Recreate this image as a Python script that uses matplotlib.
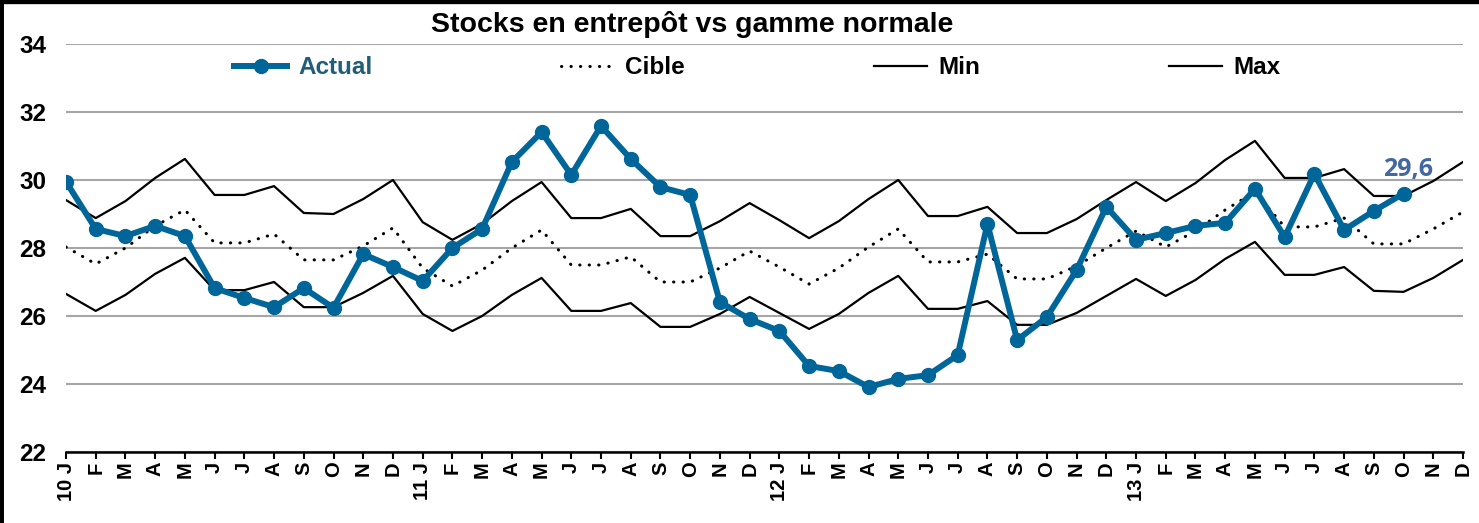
import matplotlib
matplotlib.use("Agg")
import matplotlib.pyplot as plt
from matplotlib.lines import Line2D

plt.rcParams['font.family'] = ['Liberation Sans', 'DejaVu Sans']

months = ['J', 'F', 'M', 'A', 'M', 'J', 'J', 'A', 'S', 'O', 'N', 'D']
years = ['10', '11', '12', '13']
tick_labels = []
for y in years:
    for i, m in enumerate(months):
        tick_labels.append(y + ' ' + m if i == 0 else m)

actual = [29.95, 28.56, 28.35, 28.65, 28.35, 26.82, 26.53, 26.26, 26.82, 26.24,
          27.82, 27.44, 27.03, 28.0, 28.56, 30.53, 31.41, 30.15, 31.59, 30.62,
          29.79, 29.56, 26.41, 25.91, 25.56, 24.53, 24.38, 23.91, 24.15, 24.26,
          24.85, 28.71, 25.29, 25.97, 27.35, 29.21, 28.24, 28.44, 28.65, 28.74,
          29.74, 28.32, 30.18, 28.53, 29.09, 29.6]

cible = [28.03, 27.53, 28.0, 28.65, 29.12, 28.15, 28.15, 28.41, 27.65, 27.65,
         28.06, 28.59, 27.41, 26.88, 27.35, 28.0, 28.53, 27.5, 27.5, 27.74,
         27.0, 27.0, 27.41, 27.91, 27.44, 26.94, 27.41, 28.03, 28.56, 27.59,
         27.59, 27.82, 27.09, 27.09, 27.47, 28.0, 28.5, 28.03, 28.5, 29.12,
         29.65, 28.62, 28.62, 28.88, 28.12, 28.12, 28.56, 29.06]

vmin = [26.65, 26.15, 26.62, 27.24, 27.71, 26.76, 26.76, 27.0, 26.26, 26.26,
        26.68, 27.18, 26.06, 25.56, 26.0, 26.62, 27.12, 26.15, 26.15, 26.38,
        25.68, 25.68, 26.06, 26.56, 26.09, 25.62, 26.06, 26.68, 27.18, 26.21,
        26.21, 26.44, 25.74, 25.74, 26.09, 26.59, 27.09, 26.59, 27.06, 27.68,
        28.18, 27.21, 27.21, 27.44, 26.74, 26.71, 27.12, 27.65]

vmax = [29.41, 28.88, 29.38, 30.06, 30.62, 29.56, 29.56, 29.82, 29.03, 29.0,
        29.44, 30.0, 28.76, 28.24, 28.71, 29.38, 29.94, 28.88, 28.88, 29.15,
        28.35, 28.35, 28.79, 29.32, 28.82, 28.29, 28.79, 29.44, 30.0, 28.94,
        28.94, 29.21, 28.44, 28.44, 28.85, 29.41, 29.94, 29.38, 29.91, 30.59,
        31.15, 30.06, 30.06, 30.32, 29.53, 29.53, 29.97, 30.53]

blue = '#006699'
dots = (0, (0.1, 3.0))

fig = plt.figure(figsize=(14.79, 5.23), dpi=100)
ax = fig.add_axes([66 / 1479, 1 - 452 / 523, (1463 - 66) / 1479, 408 / 523])

x_all = list(range(len(tick_labels)))
ax.plot(x_all, vmin, color='black', lw=1.6, zorder=2)
ax.plot(x_all, vmax, color='black', lw=1.6, zorder=2)
ax.plot(x_all, cible, color='black', lw=2.2, ls=dots,
        dash_capstyle='round', zorder=2)
ax.plot(range(len(actual)), actual, color=blue, lw=4.3, marker='o', ms=10,
        zorder=3)

ax.annotate('29,6', (len(actual) - 1, actual[-1]), xytext=(3, 8),
            textcoords='offset points', ha='center', va='bottom',
            fontsize=18, fontweight='bold', color='#4368a0',
            family=['Open Sans', 'DejaVu Sans'])

ax.set_xlim(0, len(tick_labels) - 1)
ax.set_ylim(22, 34)
ax.set_yticks(range(22, 35, 2))
ax.yaxis.grid(True, color='#a6a6a6', lw=1.5)
ax.set_axisbelow(True)
for s in ['left', 'right', 'top']:
    ax.spines[s].set_visible(False)
ax.spines['bottom'].set_linewidth(1.8)
ax.tick_params(axis='y', length=0, pad=14, labelsize=17.5)
ax.tick_params(axis='x', length=5, width=1.5, direction='out', pad=2,
               labelsize=14.5)
ax.set_xticks(x_all)
ax.set_xticklabels(tick_labels, rotation=90, ha='center', va='top')
for lab in ax.get_xticklabels() + ax.get_yticklabels():
    lab.set_fontweight('bold')

fig.text(692 / 1479, 1 - 24 / 523, 'Stocks en entrepôt vs gamme normale',
         ha='center', va='center', fontsize=20.5, fontweight='bold')

handles = [
    Line2D([], [], color=blue, lw=4.3, marker='o', ms=10),
    Line2D([], [], color='black', lw=2.2, ls=dots, dash_capstyle='round'),
    Line2D([], [], color='black', lw=1.6),
    Line2D([], [], color='black', lw=1.6),
]
leg = fig.legend(handles, ['Actual', 'Cible', 'Min', 'Max'], ncol=4,
                 mode='expand', loc='center',
                 bbox_to_anchor=(212 / 1479, 1 - 83 / 523, 1090 / 1479, 30 / 523),
                 frameon=False, handlelength=2.2, handletextpad=0.45,
                 prop={'weight': 'bold', 'size': 17.5})
leg.get_texts()[0].set_color('#215e78')

# cadre noir en haut et a gauche
fig.add_artist(Line2D([0, 1], [1, 1], transform=fig.transFigure,
                      color='black', lw=6))
fig.add_artist(Line2D([0, 0], [0, 1], transform=fig.transFigure,
                      color='black', lw=5))

fig.savefig('out.png', dpi=100)
